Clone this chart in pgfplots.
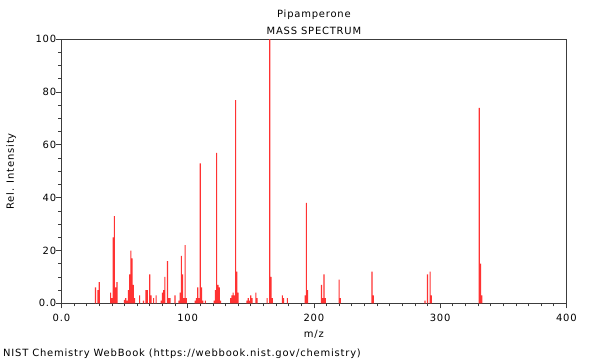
\documentclass[border=0pt]{standalone}
\usepackage{fontspec}
\setmainfont{DejaVu Sans}[LetterSpace=8]
\usepackage{pgfplots}
\pgfplotsset{compat=1.18}
\definecolor{specred}{RGB}{255,50,50}
\definecolor{framecol}{RGB}{60,60,60}
\begin{document}
\begin{tikzpicture}
\useasboundingbox (-61.4bp,-56.7bp) rectangle (538.6bp,303.3bp);
\begin{axis}[
  scale only axis, width=505bp, height=264bp,
  xmin=0, xmax=400, ymin=0, ymax=100,
  axis line style={framecol, line width=0.8bp},
  tick style={framecol, line width=0.8bp},
  tick align=outside, tick pos=left,
  major tick length=5bp, minor tick length=3bp,
  xtick={0,100,200,300,400}, xticklabels={0.0,100,200,300,400},
  ytick={0,20,40,60,80,100}, yticklabels={0.0,20,40,60,80,100},
  minor x tick num=9, minor y tick num=3,
  ticklabel style={font=\fontsize{10}{12}\selectfont, inner sep=0pt},
  xticklabel style={yshift=-6bp},
  title={Pipamperone\\MASS SPECTRUM},
  title style={align=center, font=\fontsize{10}{17.3}\selectfont, inner sep=0pt, anchor=south, at={(axis description cs:0.5,1)}, yshift=-1.8bp},
  xlabel={m/z}, ylabel={Rel. Intensity},
  every axis x label/.style={at={(axis description cs:0.5,0)}, anchor=base, yshift=-33.7bp, inner sep=0pt, font=\fontsize{10}{12}\selectfont},
  every axis y label/.style={at={(axis description cs:-0.0998,0.5)}, rotate=90, anchor=center, inner sep=0pt, font=\fontsize{10}{12}\selectfont},
]
\addplot[ybar, bar width=1.1bp, bar shift=0pt, fill=specred, draw=none] coordinates {
(27,6) (29,5) (30,8) (39,4) (40,2) (41,25) (42,33) (43,6) (44,8)
(50,1.3) (51,2) (52,1) (53,5) (54,11) (55,20) (56,17) (57,7) (58,2)
(62,3) (65,1) (67,5) (68,5) (70,11) (71,3) (73,2) (75,3) (79,1)
(80,4) (81,5) (82,10) (84,16) (85,2) (86,2) (90,3) (93,1) (94,4)
(95,18) (96,11) (97,2) (98,22) (99,2) (106,1) (107,2) (108,6) (109,2)
(110,53) (111,6) (112,1) (114,1) (121,1) (122,5) (123,57) (124,7)
(125,6) (126,1) (134,2) (135,3) (136,4) (137,3) (138,77) (139,12)
(140,4) (147,1) (148,2) (149,1) (150,3) (151,2) (154,4) (155,2)
(163,2) (165,100) (166,10) (167,2) (175,3) (176,2) (179,2) (193,3)
(194,38) (195,5) (206,7) (207,2) (208,11) (209,2) (220,9) (221,2)
(246,12) (247,3) (288,1) (290,11) (292,12) (293,3) (331,74) (332,15) (333,3)
};
\end{axis}
\node[anchor=base west, inner sep=0pt, font=\fontsize{10}{12}\selectfont] at (-58.4bp,-53.1bp) {NIST Chemistry WebBook (https://webbook.nist.gov/chemistry)};
\end{tikzpicture}
\end{document}
